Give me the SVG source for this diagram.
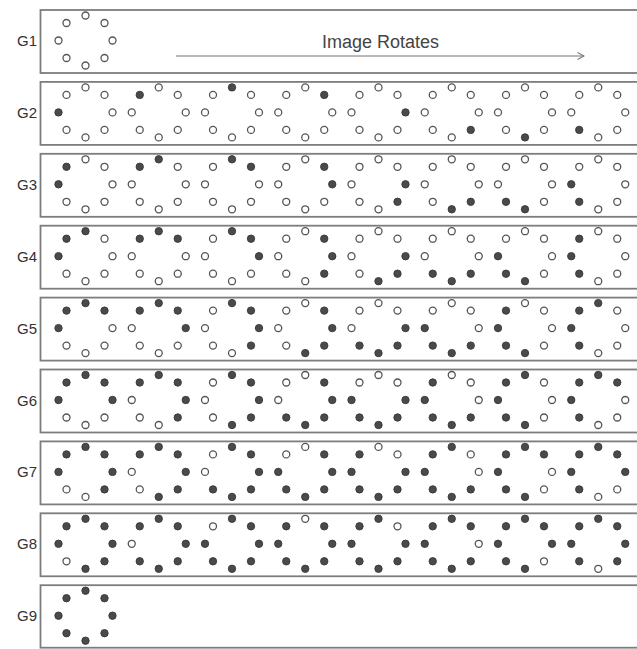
<svg xmlns="http://www.w3.org/2000/svg" width="637" height="649" viewBox="0 0 637 649">
<style>
.box{fill:#fff;stroke:#7d7d7d;stroke-width:1.8}
.lbl{font-family:"Liberation Sans",Arial,sans-serif;font-size:15px;fill:#333;text-anchor:end}
.ttl{font-family:"Liberation Sans",Arial,sans-serif;font-size:18px;fill:#444}
.o{fill:#fff;stroke:#555;stroke-width:1.3}
.f{fill:#4a4a4a;stroke:#383838;stroke-width:0.9}
.arr{stroke:#777;stroke-width:1.1;fill:none}
</style>
<defs>
<circle id="o0" class="o" cx="-27" cy="0" r="3.5"/>
<circle id="o1" class="o" cx="-19" cy="-17.5" r="3.5"/>
<circle id="o2" class="o" cx="0" cy="-25" r="3.5"/>
<circle id="o3" class="o" cx="19" cy="-17.5" r="3.5"/>
<circle id="o4" class="o" cx="27" cy="0" r="3.5"/>
<circle id="o5" class="o" cx="19" cy="17.5" r="3.5"/>
<circle id="o6" class="o" cx="0" cy="25" r="3.5"/>
<circle id="o7" class="o" cx="-19" cy="17.5" r="3.5"/>
<circle id="f0" class="f" cx="-27" cy="0" r="3.7"/>
<circle id="f1" class="f" cx="-19" cy="-17.5" r="3.7"/>
<circle id="f2" class="f" cx="0" cy="-25" r="3.7"/>
<circle id="f3" class="f" cx="19" cy="-17.5" r="3.7"/>
<circle id="f4" class="f" cx="27" cy="0" r="3.7"/>
<circle id="f5" class="f" cx="19" cy="17.5" r="3.7"/>
<circle id="f6" class="f" cx="0" cy="25" r="3.7"/>
<circle id="f7" class="f" cx="-19" cy="17.5" r="3.7"/>
<marker id="ah" viewBox="0 0 8 8" refX="7" refY="4" markerWidth="8" markerHeight="8" markerUnits="userSpaceOnUse" orient="auto">
<path d="M0.5,0.5 L7,4 L0.5,7.5" fill="none" stroke="#777" stroke-width="1.1"/>
</marker>
</defs>
<rect width="637" height="649" fill="#fff"/>

<g id="G1">
<rect class="box" x="40.5" y="10" width="610" height="63"/>
<text class="lbl" x="37" y="46">G1</text>
<g transform="translate(85.5,40.5)"><use href="#o0"/><use href="#o1"/><use href="#o2"/><use href="#o3"/><use href="#o4"/><use href="#o5"/><use href="#o6"/><use href="#o7"/></g>
<text class="ttl" x="322" y="48">Image Rotates</text>
</g>

<g id="G2">
<rect class="box" x="40.5" y="81.9" width="610" height="63"/>
<text class="lbl" x="37" y="117.9">G2</text>
<g transform="translate(85.5,112.4)"><use href="#f0"/><use href="#o1"/><use href="#o2"/><use href="#o3"/><use href="#o4"/><use href="#o5"/><use href="#o6"/><use href="#o7"/></g>
<g transform="translate(158.75,112.4)"><use href="#o0"/><use href="#f1"/><use href="#o2"/><use href="#o3"/><use href="#o4"/><use href="#o5"/><use href="#o6"/><use href="#o7"/></g>
<g transform="translate(232,112.4)"><use href="#o0"/><use href="#o1"/><use href="#f2"/><use href="#o3"/><use href="#o4"/><use href="#o5"/><use href="#o6"/><use href="#o7"/></g>
<g transform="translate(305.25,112.4)"><use href="#o0"/><use href="#o1"/><use href="#o2"/><use href="#f3"/><use href="#o4"/><use href="#o5"/><use href="#o6"/><use href="#o7"/></g>
<g transform="translate(378.5,112.4)"><use href="#o0"/><use href="#o1"/><use href="#o2"/><use href="#o3"/><use href="#f4"/><use href="#o5"/><use href="#o6"/><use href="#o7"/></g>
<g transform="translate(451.75,112.4)"><use href="#o0"/><use href="#o1"/><use href="#o2"/><use href="#o3"/><use href="#o4"/><use href="#f5"/><use href="#o6"/><use href="#o7"/></g>
<g transform="translate(525,112.4)"><use href="#o0"/><use href="#o1"/><use href="#o2"/><use href="#o3"/><use href="#o4"/><use href="#o5"/><use href="#f6"/><use href="#o7"/></g>
<g transform="translate(598.25,112.4)"><use href="#o0"/><use href="#o1"/><use href="#o2"/><use href="#o3"/><use href="#o4"/><use href="#o5"/><use href="#o6"/><use href="#f7"/></g>
</g>

<g id="G3">
<rect class="box" x="40.5" y="153.8" width="610" height="63"/>
<text class="lbl" x="37" y="189.8">G3</text>
<g transform="translate(85.5,184.3)"><use href="#f0"/><use href="#f1"/><use href="#o2"/><use href="#o3"/><use href="#o4"/><use href="#o5"/><use href="#o6"/><use href="#o7"/></g>
<g transform="translate(158.75,184.3)"><use href="#o0"/><use href="#f1"/><use href="#f2"/><use href="#o3"/><use href="#o4"/><use href="#o5"/><use href="#o6"/><use href="#o7"/></g>
<g transform="translate(232,184.3)"><use href="#o0"/><use href="#o1"/><use href="#f2"/><use href="#f3"/><use href="#o4"/><use href="#o5"/><use href="#o6"/><use href="#o7"/></g>
<g transform="translate(305.25,184.3)"><use href="#o0"/><use href="#o1"/><use href="#o2"/><use href="#f3"/><use href="#f4"/><use href="#o5"/><use href="#o6"/><use href="#o7"/></g>
<g transform="translate(378.5,184.3)"><use href="#o0"/><use href="#o1"/><use href="#o2"/><use href="#o3"/><use href="#f4"/><use href="#f5"/><use href="#o6"/><use href="#o7"/></g>
<g transform="translate(451.75,184.3)"><use href="#o0"/><use href="#o1"/><use href="#o2"/><use href="#o3"/><use href="#o4"/><use href="#f5"/><use href="#f6"/><use href="#o7"/></g>
<g transform="translate(525,184.3)"><use href="#o0"/><use href="#o1"/><use href="#o2"/><use href="#o3"/><use href="#o4"/><use href="#o5"/><use href="#f6"/><use href="#f7"/></g>
<g transform="translate(598.25,184.3)"><use href="#f0"/><use href="#o1"/><use href="#o2"/><use href="#o3"/><use href="#o4"/><use href="#o5"/><use href="#o6"/><use href="#f7"/></g>
</g>

<g id="G4">
<rect class="box" x="40.5" y="225.7" width="610" height="63"/>
<text class="lbl" x="37" y="261.7">G4</text>
<g transform="translate(85.5,256.2)"><use href="#f0"/><use href="#f1"/><use href="#f2"/><use href="#o3"/><use href="#o4"/><use href="#o5"/><use href="#o6"/><use href="#o7"/></g>
<g transform="translate(158.75,256.2)"><use href="#o0"/><use href="#f1"/><use href="#f2"/><use href="#f3"/><use href="#o4"/><use href="#o5"/><use href="#o6"/><use href="#o7"/></g>
<g transform="translate(232,256.2)"><use href="#o0"/><use href="#o1"/><use href="#f2"/><use href="#f3"/><use href="#f4"/><use href="#o5"/><use href="#o6"/><use href="#o7"/></g>
<g transform="translate(305.25,256.2)"><use href="#o0"/><use href="#o1"/><use href="#o2"/><use href="#f3"/><use href="#f4"/><use href="#f5"/><use href="#o6"/><use href="#o7"/></g>
<g transform="translate(378.5,256.2)"><use href="#o0"/><use href="#o1"/><use href="#o2"/><use href="#o3"/><use href="#f4"/><use href="#f5"/><use href="#f6"/><use href="#o7"/></g>
<g transform="translate(451.75,256.2)"><use href="#o0"/><use href="#o1"/><use href="#o2"/><use href="#o3"/><use href="#o4"/><use href="#f5"/><use href="#f6"/><use href="#f7"/></g>
<g transform="translate(525,256.2)"><use href="#f0"/><use href="#o1"/><use href="#o2"/><use href="#o3"/><use href="#o4"/><use href="#o5"/><use href="#f6"/><use href="#f7"/></g>
<g transform="translate(598.25,256.2)"><use href="#f0"/><use href="#f1"/><use href="#o2"/><use href="#o3"/><use href="#o4"/><use href="#o5"/><use href="#o6"/><use href="#f7"/></g>
</g>

<g id="G5">
<rect class="box" x="40.5" y="297.6" width="610" height="63"/>
<text class="lbl" x="37" y="333.6">G5</text>
<g transform="translate(85.5,328.1)"><use href="#f0"/><use href="#f1"/><use href="#f2"/><use href="#f3"/><use href="#o4"/><use href="#o5"/><use href="#o6"/><use href="#o7"/></g>
<g transform="translate(158.75,328.1)"><use href="#o0"/><use href="#f1"/><use href="#f2"/><use href="#f3"/><use href="#f4"/><use href="#o5"/><use href="#o6"/><use href="#o7"/></g>
<g transform="translate(232,328.1)"><use href="#o0"/><use href="#o1"/><use href="#f2"/><use href="#f3"/><use href="#f4"/><use href="#f5"/><use href="#o6"/><use href="#o7"/></g>
<g transform="translate(305.25,328.1)"><use href="#o0"/><use href="#o1"/><use href="#o2"/><use href="#f3"/><use href="#f4"/><use href="#f5"/><use href="#f6"/><use href="#o7"/></g>
<g transform="translate(378.5,328.1)"><use href="#o0"/><use href="#o1"/><use href="#o2"/><use href="#o3"/><use href="#f4"/><use href="#f5"/><use href="#f6"/><use href="#f7"/></g>
<g transform="translate(451.75,328.1)"><use href="#f0"/><use href="#o1"/><use href="#o2"/><use href="#o3"/><use href="#o4"/><use href="#f5"/><use href="#f6"/><use href="#f7"/></g>
<g transform="translate(525,328.1)"><use href="#f0"/><use href="#f1"/><use href="#o2"/><use href="#o3"/><use href="#o4"/><use href="#o5"/><use href="#f6"/><use href="#f7"/></g>
<g transform="translate(598.25,328.1)"><use href="#f0"/><use href="#f1"/><use href="#f2"/><use href="#o3"/><use href="#o4"/><use href="#o5"/><use href="#o6"/><use href="#f7"/></g>
</g>

<g id="G6">
<rect class="box" x="40.5" y="369.5" width="610" height="63"/>
<text class="lbl" x="37" y="405.5">G6</text>
<g transform="translate(85.5,400)"><use href="#f0"/><use href="#f1"/><use href="#f2"/><use href="#f3"/><use href="#f4"/><use href="#o5"/><use href="#o6"/><use href="#o7"/></g>
<g transform="translate(158.75,400)"><use href="#o0"/><use href="#f1"/><use href="#f2"/><use href="#f3"/><use href="#f4"/><use href="#f5"/><use href="#o6"/><use href="#o7"/></g>
<g transform="translate(232,400)"><use href="#o0"/><use href="#o1"/><use href="#f2"/><use href="#f3"/><use href="#f4"/><use href="#f5"/><use href="#f6"/><use href="#o7"/></g>
<g transform="translate(305.25,400)"><use href="#o0"/><use href="#o1"/><use href="#o2"/><use href="#f3"/><use href="#f4"/><use href="#f5"/><use href="#f6"/><use href="#f7"/></g>
<g transform="translate(378.5,400)"><use href="#f0"/><use href="#o1"/><use href="#o2"/><use href="#o3"/><use href="#f4"/><use href="#f5"/><use href="#f6"/><use href="#f7"/></g>
<g transform="translate(451.75,400)"><use href="#f0"/><use href="#f1"/><use href="#o2"/><use href="#o3"/><use href="#o4"/><use href="#f5"/><use href="#f6"/><use href="#f7"/></g>
<g transform="translate(525,400)"><use href="#f0"/><use href="#f1"/><use href="#f2"/><use href="#o3"/><use href="#o4"/><use href="#o5"/><use href="#f6"/><use href="#f7"/></g>
<g transform="translate(598.25,400)"><use href="#f0"/><use href="#f1"/><use href="#f2"/><use href="#f3"/><use href="#o4"/><use href="#o5"/><use href="#o6"/><use href="#f7"/></g>
</g>

<g id="G7">
<rect class="box" x="40.5" y="441.4" width="610" height="63"/>
<text class="lbl" x="37" y="477.4">G7</text>
<g transform="translate(85.5,471.9)"><use href="#f0"/><use href="#f1"/><use href="#f2"/><use href="#f3"/><use href="#f4"/><use href="#f5"/><use href="#o6"/><use href="#o7"/></g>
<g transform="translate(158.75,471.9)"><use href="#o0"/><use href="#f1"/><use href="#f2"/><use href="#f3"/><use href="#f4"/><use href="#f5"/><use href="#f6"/><use href="#o7"/></g>
<g transform="translate(232,471.9)"><use href="#o0"/><use href="#o1"/><use href="#f2"/><use href="#f3"/><use href="#f4"/><use href="#f5"/><use href="#f6"/><use href="#f7"/></g>
<g transform="translate(305.25,471.9)"><use href="#f0"/><use href="#o1"/><use href="#o2"/><use href="#f3"/><use href="#f4"/><use href="#f5"/><use href="#f6"/><use href="#f7"/></g>
<g transform="translate(378.5,471.9)"><use href="#f0"/><use href="#f1"/><use href="#o2"/><use href="#o3"/><use href="#f4"/><use href="#f5"/><use href="#f6"/><use href="#f7"/></g>
<g transform="translate(451.75,471.9)"><use href="#f0"/><use href="#f1"/><use href="#f2"/><use href="#o3"/><use href="#o4"/><use href="#f5"/><use href="#f6"/><use href="#f7"/></g>
<g transform="translate(525,471.9)"><use href="#f0"/><use href="#f1"/><use href="#f2"/><use href="#f3"/><use href="#o4"/><use href="#o5"/><use href="#f6"/><use href="#f7"/></g>
<g transform="translate(598.25,471.9)"><use href="#f0"/><use href="#f1"/><use href="#f2"/><use href="#f3"/><use href="#f4"/><use href="#o5"/><use href="#o6"/><use href="#f7"/></g>
</g>

<g id="G8">
<rect class="box" x="40.5" y="513.3" width="610" height="63"/>
<text class="lbl" x="37" y="549.3">G8</text>
<g transform="translate(85.5,543.8)"><use href="#f0"/><use href="#f1"/><use href="#f2"/><use href="#f3"/><use href="#f4"/><use href="#f5"/><use href="#f6"/><use href="#o7"/></g>
<g transform="translate(158.75,543.8)"><use href="#o0"/><use href="#f1"/><use href="#f2"/><use href="#f3"/><use href="#f4"/><use href="#f5"/><use href="#f6"/><use href="#f7"/></g>
<g transform="translate(232,543.8)"><use href="#f0"/><use href="#o1"/><use href="#f2"/><use href="#f3"/><use href="#f4"/><use href="#f5"/><use href="#f6"/><use href="#f7"/></g>
<g transform="translate(305.25,543.8)"><use href="#f0"/><use href="#f1"/><use href="#o2"/><use href="#f3"/><use href="#f4"/><use href="#f5"/><use href="#f6"/><use href="#f7"/></g>
<g transform="translate(378.5,543.8)"><use href="#f0"/><use href="#f1"/><use href="#f2"/><use href="#o3"/><use href="#f4"/><use href="#f5"/><use href="#f6"/><use href="#f7"/></g>
<g transform="translate(451.75,543.8)"><use href="#f0"/><use href="#f1"/><use href="#f2"/><use href="#f3"/><use href="#o4"/><use href="#f5"/><use href="#f6"/><use href="#f7"/></g>
<g transform="translate(525,543.8)"><use href="#f0"/><use href="#f1"/><use href="#f2"/><use href="#f3"/><use href="#f4"/><use href="#o5"/><use href="#f6"/><use href="#f7"/></g>
<g transform="translate(598.25,543.8)"><use href="#f0"/><use href="#f1"/><use href="#f2"/><use href="#f3"/><use href="#f4"/><use href="#f5"/><use href="#o6"/><use href="#f7"/></g>
</g>

<g id="G9">
<rect class="box" x="40.5" y="585.2" width="610" height="62.5"/>
<text class="lbl" x="37" y="621.2">G9</text>
<g transform="translate(85.5,615.7)"><use href="#f0"/><use href="#f1"/><use href="#f2"/><use href="#f3"/><use href="#f4"/><use href="#f5"/><use href="#f6"/><use href="#f7"/></g>
</g>

<g id="connectors">
<line class="arr" x1="176" y1="56" x2="584" y2="56" marker-end="url(#ah)"/>
</g>
</svg>
